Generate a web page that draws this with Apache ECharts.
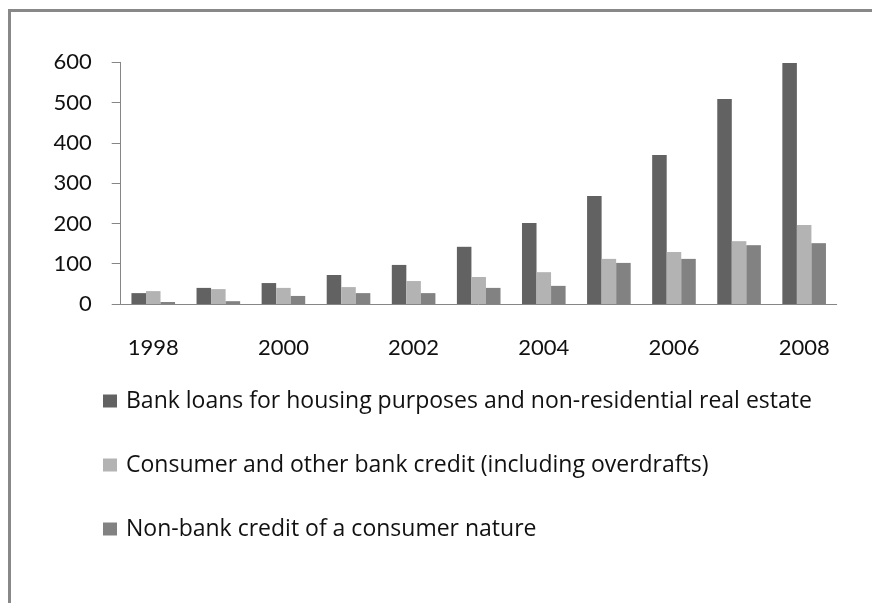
<!DOCTYPE html>
<html>
<head>
<meta charset="utf-8">
<script src="https://cdn.jsdelivr.net/npm/echarts@6/dist/echarts.min.js"></script>
<style>
  html, body { margin: 0; padding: 0; background: #fff; }
  #chart { width: 872px; height: 603px; }
</style>
</head>
<body>
<div id="chart"></div>
<script>
// Lending volumes by year, three credit categories
const years = ['1998','1999','2000','2001','2002','2003','2004','2005','2006','2007','2008'];
const housingLoans = [27, 40, 52, 72, 97, 142, 201, 268, 370, 509, 598];
const consumerBankCredit = [32, 37, 40, 42, 57, 67, 79, 112, 129, 156, 196];
const nonBankCredit = [5, 7, 20, 27, 27, 40, 45, 102, 112, 146, 151];
const yTicks = { min: 0, max: 600, interval: 100 };

const seriesNames = [
  'Bank loans for housing purposes and non-residential real estate',
  'Consumer and other bank credit (including overdrafts)',
  'Non-bank credit of a consumer nature'
];
const seriesColors = ['#626262', '#b3b3b3', '#828282'];
const seriesData = [housingLoans, consumerBankCredit, nonBankCredit];

const FONT = 'Lato';
const LEGEND_FONT = 'Open Sans';
const chart = echarts.init(document.getElementById('chart'), null, { renderer: 'canvas' });

// vertical centres of the legend rows: ~400, 464, 528
const legendTops = [389, 453, 517];

chart.setOption({
  animation: false,
  backgroundColor: '#ffffff',
  textStyle: { fontFamily: FONT },
  graphic: [{
    type: 'rect',
    shape: { x: 9.5, y: 10.5, width: 1000, height: 800 },
    style: { fill: 'none', stroke: '#888888', lineWidth: 3 },
    silent: true
  }],
  grid: { left: 120.7, right: 35.3, top: 62.3, bottom: 299, containLabel: false },
  legend: seriesNames.map((name, i) => ({
    data: [name],
    left: 103,
    top: legendTops[i],
    padding: 0,
    orient: 'vertical',
    icon: 'rect',
    itemWidth: 14,
    itemHeight: 13,
    itemGap: 0,
    selectedMode: false,
    textStyle: { fontFamily: LEGEND_FONT, fontSize: 23, lineHeight: 24, color: '#111', padding: [0, 0, 0, 4] }
  })),
  xAxis: {
    type: 'category',
    data: years,
    axisLine: { lineStyle: { color: '#868686', width: 1 } },
    axisTick: { show: false },
    axisLabel: { interval: 1, margin: 33, fontFamily: FONT, fontSize: 22, color: '#111' },
    splitLine: { show: false }
  },
  yAxis: {
    type: 'value',
    min: yTicks.min,
    max: yTicks.max,
    interval: yTicks.interval,
    axisLine: { show: true, lineStyle: { color: '#868686', width: 1 } },
    axisTick: { show: true, length: 9, lineStyle: { color: '#868686', width: 1 } },
    axisLabel: { margin: 29, fontFamily: FONT, fontSize: 22, color: '#111' },
    splitLine: { show: false }
  },
  series: seriesNames.map((name, i) => ({
    name: name,
    type: 'bar',
    data: seriesData[i],
    barGap: '0%',
    barCategoryGap: '33%',
    itemStyle: { color: seriesColors[i] },
    emphasis: { disabled: true }
  }))
});
</script>
</body>
</html>
